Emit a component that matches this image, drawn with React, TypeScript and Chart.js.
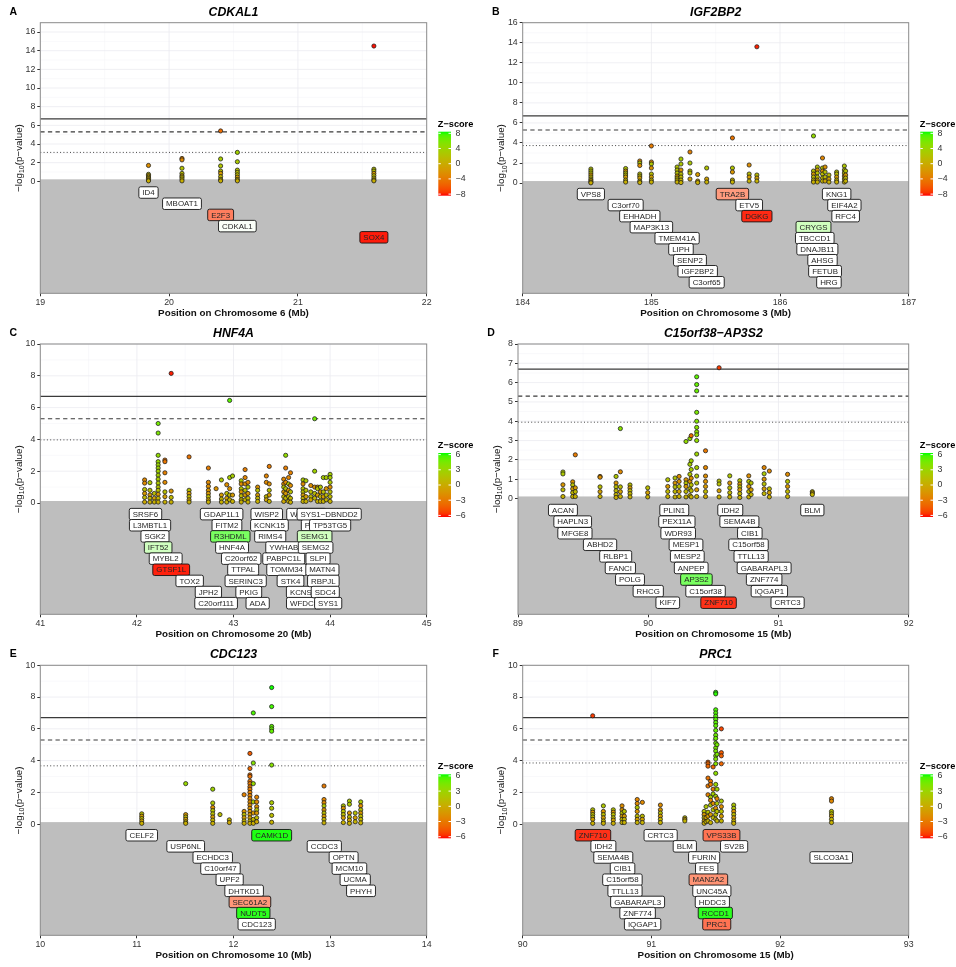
import { useEffect, useRef } from "react";
import { Chart, registerables } from "chart.js";

Chart.register(...registerables);

const FONT = '"Liberation Sans", Arimo, Arial, Helvetica, sans-serif';

// ---------- locus settings ----------
const panelLetters = ["A", "B", "C", "D", "E", "F"];
const locusNames = ["CDKAL1", "IGF2BP2", "HNF4A", "C15orf38\u2212AP3S2", "CDC123", "PRC1"];
const chromosomes = ["6", "3", "20", "15", "10", "15"];
const xStarts = [19, 184, 41, 89, 10, 90];
const xEnds = [22, 187, 45, 92, 14, 93];
const yTops = [17, 16, 10, 8, 10, 10];
const yBottoms = [-12, -11, -7, -6, -7, -7];
const yTickMax = [16, 16, 10, 8, 10, 10];
const yTickSteps = [2, 2, 2, 1, 2, 2];
const suggestiveLevels = [3.1, 3.74, 3.97, 3.95, 3.67, 3.85];
const zLimits = [8, 8, 6, 6, 6, 6];
const GENOME_WIDE = 6.7;
const SECONDARY = 5.3;

// ---------- SNPs: [position (Mb), signed -log10(p) values; sign = direction of Z] ----------
type SnpColumn = [number, number[]];

const cdkal1Snps: SnpColumn[] = [
  [19.84, [-1.7, 0.75, -0.6, 0.45, -0.3, 0.15, 0.05]],
  [20.1, [-2.45, -2.3, 1.4, 0.85, -0.6, 0.45, 0.25, 0.05]],
  [20.4, [-5.4, 2.4, 1.65, 1.1, -0.85, 0.5, 0.2, 0.05]],
  [20.53, [3.1, 2.1, 1.2, 0.95, 0.7, -0.45, 0.2, 0.05]],
  [21.59, [-14.5, 1.3, 1.1, -0.85, 0.6, 0.35, 0.15, 0.05]],
];

const igf2bp2Snps: SnpColumn[] = [
  [184.53, [1.4, 1.2, 1.0, -0.8, 0.6, 0.4, -0.25, 0.1, 0.02]],
  [184.8, [1.45, -1.2, 1.0, 0.8, -0.6, 0.3, 0.1]],
  [184.91, [-2.2, 2.0, -1.75, 0.9, 0.7, -0.5, 0.2, 0.05]],
  [185.0, [-3.7, -2.1, 1.9, -1.5, 0.9, -0.6, 0.3, 0.1]],
  [185.2, [1.6, 1.3, 1.0, -0.7, 0.5, 0.3, 0.1]],
  [185.23, [2.4, 1.9, -1.3, 0.9, 0.6, 0.3, 0.05]],
  [185.3, [-3.1, 2.0, 1.2, 1.0, -0.4]],
  [185.36, [-0.85, -0.2, 0.05]],
  [185.43, [1.5, -0.4, 0.1]],
  [185.63, [-4.5, 1.5, -1.1, 0.3, 0.1]],
  [185.76, [-1.8, 0.9, -0.6, 0.2]],
  [185.82, [-13.6, 0.8, -0.5, 0.2]],
  [186.26, [4.7, 1.2, -0.9, 0.6, 0.3, 0.1]],
  [186.29, [1.6, -1.3, 1.0, 0.6, -0.3, 0.1]],
  [186.33, [-2.5, 1.5, -1.2, 0.9, 0.5, 0.2]],
  [186.35, [-1.6, 1.1, 0.6, -0.2]],
  [186.38, [0.8, -0.4, 0.1]],
  [186.44, [1.1, 0.9, -0.6, 0.3, 0.1]],
  [186.5, [1.7, 1.3, 1.0, -0.7, 0.4, 0.1]],
  [186.51, [1.2, -0.8, 0.5, 0.2]],
];

const hnf4aSnps: SnpColumn[] = [
  [42.08, [-1.45, -1.25, 0.85, -0.6, 0.35, -0.06]],
  [42.135, [1.28, 0.8, -0.5, 0.3, 0.06]],
  [42.18, [0.6, -0.3, 0.06]],
  [42.22, [5.0, 4.4, 3.0, 2.6, 2.4, 2.2, 2.0, 1.75, 1.5, 1.25, 1.0, 0.8, -0.55, 0.3, 0.06]],
  [42.29, [-2.7, -2.6, -1.9, -1.3, 0.7, -0.4, 0.06]],
  [42.355, [-8.15, -0.75, 0.35, 0.06]],
  [42.54, [-2.9, 0.8, -0.6, 0.4, -0.2, 0.06]],
  [42.74, [-2.2, -1.3, -1.05, -0.8, -0.6, 0.4, -0.2, 0.06]],
  [42.82, [-0.9]],
  [42.875, [1.45, -0.5, 0.25, 0.06]],
  [42.93, [-1.15, 0.6, -0.3, 0.06]],
  [42.96, [6.45, 1.6, -0.9, 0.5, 0.2]],
  [42.99, [1.7, -0.5, 0.1]],
  [43.08, [1.4, -1.2, 0.9, -0.7, 0.45, 0.2, 0.06]],
  [43.12, [-2.1, -1.6, -1.2, 0.8, -0.5, 0.2]],
  [43.15, [-1.3, 1.0, -0.6, 0.3, 0.06]],
  [43.25, [-1.0, 0.8, -0.5, 0.3, 0.1]],
  [43.34, [-1.7, -1.3, 0.4, -0.2]],
  [43.37, [-2.3, -1.2, 0.8, -0.5, 0.1]],
  [43.52, [-1.5, -1.2, 1.0, -0.7, 0.4, -0.1]],
  [43.54, [3.0, -2.2, -1.3, 0.9, -0.6, 0.3]],
  [43.57, [-1.6, 1.2, -0.8, 0.4, 0.1]],
  [43.59, [-1.9, -1.1, 0.7, 0.3, 0.05]],
  [43.72, [1.45, -1.2, 0.9, 0.7, -0.5, 0.3, 0.1]],
  [43.75, [1.4, 0.8, -0.4, 0.1]],
  [43.8, [-1.1, 0.7, 0.4, -0.2]],
  [43.84, [5.3, 2.0, -1.0, 0.6, 0.3]],
  [43.87, [-1.0, 0.9, -0.5, 0.1]],
  [43.9, [1.0, -0.7, 0.4, 0.1]],
  [43.93, [1.6, 0.7, -0.4, 0.1]],
  [43.96, [1.6, -0.9, 0.5, 0.2]],
  [44.0, [1.8, 1.6, 1.3, -1.0, 0.7, 0.4, 0.1]],
];

const ap3s2Snps: SnpColumn[] = [
  [89.345, [1.37, 1.27, -0.71, 0.45, 0.1]],
  [89.42, [-0.86, 0.7, -0.5, 0.3, 0.1]],
  [89.44, [-2.26, -0.55, 0.35, 0.1]],
  [89.63, [-1.14, -1.1, 0.6, -0.35, 0.1]],
  [89.753, [1.14, -0.8, 0.6, 0.4, 0.2, 0.05]],
  [89.786, [3.62, -1.38, 0.6, -0.35, 0.1]],
  [89.86, [0.7, -0.55, 0.4, 0.25, 0.08]],
  [89.996, [0.55, -0.3, 0.08]],
  [90.15, [0.97, -0.62, 0.36, 0.1]],
  [90.206, [1.06, -0.8, 0.6, 0.36, 0.08]],
  [90.237, [-1.14, -0.88, 0.62, -0.36, 0.1]],
  [90.29, [2.95, -0.97, 0.8, -0.62, 0.36, 0.08]],
  [90.32, [3.1, 1.77, 1.25, -0.88, 0.5, 0.15]],
  [90.33, [-3.25, 1.95, 1.5, -1.05, 0.7, 0.4, 0.08]],
  [90.372, [6.3, 5.9, 5.57, 4.46, 4.0, 3.68, 3.45, 3.3, 3.0, 2.3, 1.6, 1.16, 0.8, -0.45, 0.1]],
  [90.44, [-2.47, -1.6, -1.16, -0.88, -0.62, 0.36, -0.1]],
  [90.544, [-6.77, 0.9, 0.75, -0.4, 0.08]],
  [90.626, [1.17, -0.8, 0.55, 0.3, 0.08]],
  [90.703, [0.92, -0.75, 0.6, -0.45, 0.25, 0.05]],
  [90.772, [-1.17, 0.88, -0.62, 0.36, 0.08]],
  [90.79, [0.8, -0.45, 0.2]],
  [90.89, [-1.6, 1.28, -1.0, 0.75, -0.5, 0.25]],
  [90.93, [-1.42, 0.5, -0.3, 0.08]],
  [91.07, [-1.25, 0.88, -0.62, 0.36, 0.1]],
  [91.26, [0.35, -0.28, 0.2]],
];

const cdc123Snps: SnpColumn[] = [
  [11.05, [0.65, -0.5, 0.35, -0.2, 0.05]],
  [11.505, [2.55, -0.6, 0.45, -0.3, 0.15, 0.05]],
  [11.785, [2.2, 1.33, -1.05, 0.85, 0.65, -0.45, 0.25, 0.05]],
  [11.86, [0.6]],
  [11.957, [0.27, -0.1]],
  [12.11, [-1.85, -0.8, 0.6, -0.4, 0.2, 0.05]],
  [12.17, [-4.45, -3.5, -3.1, -3.0, -2.7, -2.55, -2.35, -2.2, -2.0, -1.8, -1.6, -1.4, -1.2, -1.0, -0.8, -0.6, -0.4, 0.2, -0.05]],
  [12.205, [7.0, 3.85, 2.55, 1.4, -0.7, 0.3, 0.05]],
  [12.24, [-1.7, -1.4, -1.1, 0.9, -0.7, 0.4, -0.15]],
  [12.395, [8.6, 7.4, 6.15, 6.0, 5.85, 3.72, 1.35, 1.0, 0.55, 0.12]],
  [12.937, [-2.4, -1.55, -1.35, 1.15, -0.9, 0.7, -0.5, 0.3, 0.08]],
  [13.137, [1.15, -1.0, 0.8, 0.6, -0.4, 0.1]],
  [13.2, [1.45, 1.25, -0.7, 0.45, -0.25, 0.05]],
  [13.26, [0.7, -0.4, 0.15]],
  [13.317, [1.4, -1.15, 0.9, -0.7, 0.5, 0.3, 0.08]],
];

const prc1Snps: SnpColumn[] = [
  [90.544, [-6.82, 0.9, -0.75, 0.6, 0.45, -0.3, 0.05]],
  [90.627, [1.15, -0.8, 0.6, -0.4, 0.2, 0.05]],
  [90.704, [0.9, -0.75, 0.6, 0.4, -0.25, 0.05]],
  [90.772, [-1.15, -0.9, 0.7, -0.5, 0.3, 0.1]],
  [90.79, [0.8, -0.5, 0.3, 0.1]],
  [90.89, [-1.55, -1.3, 1.05, -0.8, 0.5, -0.3, 0.1]],
  [90.93, [-1.37, 0.5, -0.3, 0.1]],
  [91.07, [-1.2, -0.9, 0.7, -0.5, 0.3, 0.1]],
  [91.26, [0.4, -0.3, 0.2]],
  [91.41, [0.8, -0.6, 0.4, -0.2, 0.05]],
  [91.425, [1.1, -0.4, 0.15]],
  [91.44, [-3.9, -3.8, -3.65, -2.9, -2.4, -1.85, 0.75, -0.5, 0.2]],
  [91.46, [-2.7, -2.5, 1.7, -1.5, 1.2, -0.6, 0.1]],
  [91.48, [-3.6, -2.2, 1.9, -1.3, 0.9, 0.4]],
  [91.5, [8.3, 8.2, 7.2, 7.0, 6.8, 6.6, 6.4, 6.2, 5.9, 5.6, 5.4, 5.1, 4.8, 4.6, 4.3, 4.1, 3.8, 3.2, 2.5, 1.75, -1.0, 0.6, 0.3]],
  [91.51, [5.0, 4.4, 2.2, -1.6, 1.3, 0.8, 0.2]],
  [91.544, [-6.0, -4.5, -4.3, -3.8, 1.45, -1.1, 0.8, -0.5, 0.2]],
  [91.64, [1.2, 1.0, -0.8, 0.6, -0.4, 0.2, 0.05]],
  [92.4, [-1.6, -1.45, 0.8, 0.65, -0.5, 0.3, 0.1]],
];

// ---------- genes: [symbol, position (Mb), label row, gene Z-score] ----------
type GeneLabel = [string, number, number, number];

const cdkal1Genes: GeneLabel[] = [
  ["ID4", 19.84, 0, 0], ["MBOAT1", 20.1, 1, 0], ["E2F3", 20.4, 2, -5.2],
  ["CDKAL1", 20.53, 3, 0.3], ["SOX4", 21.59, 4, -7.8],
];

const igf2bp2Genes: GeneLabel[] = [
  ["VPS8", 184.53, 0, 0], ["C3orf70", 184.8, 1, 0], ["EHHADH", 184.91, 2, 0],
  ["MAP3K13", 185.0, 3, 0], ["TMEM41A", 185.2, 4, 0], ["LIPH", 185.23, 5, 0],
  ["SENP2", 185.3, 6, 0], ["IGF2BP2", 185.36, 7, 0], ["C3orf65", 185.43, 8, 0],
  ["TRA2B", 185.63, 0, -4.1], ["ETV5", 185.76, 1, 0], ["DGKG", 185.82, 2, -7.6],
  ["KNG1", 186.44, 0, 0], ["EIF4A2", 186.5, 1, 0], ["RFC4", 186.51, 2, 0],
  ["CRYGS", 186.26, 3, 2.6], ["TBCCD1", 186.27, 4, 0], ["DNAJB11", 186.29, 5, 0],
  ["AHSG", 186.33, 6, 0], ["FETUB", 186.35, 7, 0], ["HRG", 186.38, 8, 0],
];

const hnf4aGenes: GeneLabel[] = [
  ["SRSF6", 42.089, 0, 0], ["L3MBTL1", 42.136, 1, 0], ["SGK2", 42.187, 2, 0],
  ["IFT52", 42.22, 3, 1.9], ["MYBL2", 42.298, 4, 0], ["GTSF1L", 42.355, 5, -5.8],
  ["TOX2", 42.546, 6, 0], ["JPH2", 42.74, 7, 0], ["C20orf111", 42.82, 8, 0],
  ["GDAP1L1", 42.877, 0, 0], ["FITM2", 42.932, 1, 0], ["R3HDML", 42.967, 2, 4.6],
  ["HNF4A", 42.985, 3, 0], ["C20orf62", 43.08, 4, 0], ["TTPAL", 43.1, 5, 0],
  ["SERINC3", 43.126, 6, 0], ["PKIG", 43.158, 7, 0], ["ADA", 43.25, 8, 0],
  ["WISP2", 43.344, 0, 0], ["KCNK15", 43.372, 1, 0], ["RIMS4", 43.38, 2, 0],
  ["YWHAB", 43.52, 3, 0], ["PABPC1L", 43.52, 4, 0], ["TOMM34", 43.55, 5, 0],
  ["STK4", 43.59, 6, 0], ["KCNS1", 43.72, 7, 0], ["WFDC5", 43.73, 8, 0],
  ["WFDC12", 43.755, 0, 0], ["PI3", 43.8, 1, 0],
  ["SYS1\u2212DBNDD2", 43.99, 0, 0], ["TP53TG5", 44.0, 1, 0], ["SEMG1", 43.84, 2, 1.9],
  ["SEMG2", 43.85, 3, 0], ["SLPI", 43.875, 4, 0], ["MATN4", 43.92, 5, 0],
  ["RBPJL", 43.93, 6, 0], ["SDC4", 43.95, 7, 0], ["SYS1", 43.98, 8, 0],
];

const ap3s2Genes: GeneLabel[] = [
  ["ACAN", 89.345, 0, 0], ["HAPLN3", 89.42, 1, 0], ["MFGE8", 89.437, 2, 0],
  ["ABHD2", 89.63, 3, 0], ["RLBP1", 89.75, 4, 0], ["FANCI", 89.786, 5, 0],
  ["POLG", 89.86, 6, 0], ["RHCG", 90.0, 7, 0], ["KIF7", 90.15, 8, 0],
  ["PLIN1", 90.2, 0, 0], ["PEX11A", 90.22, 1, 0], ["WDR93", 90.23, 2, 0],
  ["MESP1", 90.29, 3, 0], ["MESP2", 90.3, 4, 0], ["ANPEP", 90.33, 5, 0],
  ["AP3S2", 90.37, 6, 4.6], ["C15orf38", 90.44, 7, 0], ["ZNF710", 90.54, 8, -5.6],
  ["IDH2", 90.63, 0, 0], ["SEMA4B", 90.7, 1, 0], ["CIB1", 90.78, 2, 0],
  ["C15orf58", 90.77, 3, 0], ["TTLL13", 90.79, 4, 0], ["GABARAPL3", 90.89, 5, 0],
  ["ZNF774", 90.89, 6, 0], ["IQGAP1", 90.93, 7, 0], ["CRTC3", 91.07, 8, 0],
  ["BLM", 91.26, 0, 0],
];

const cdc123Genes: GeneLabel[] = [
  ["CELF2", 11.05, 0, 0], ["USP6NL", 11.505, 1, 0], ["ECHDC3", 11.785, 2, 0],
  ["C10orf47", 11.865, 3, 0], ["UPF2", 11.96, 4, 0], ["DHTKD1", 12.11, 5, 0],
  ["SEC61A2", 12.17, 6, -3.2], ["NUDT5", 12.205, 7, 5.8], ["CDC123", 12.24, 8, 0],
  ["CAMK1D", 12.395, 0, 5.9], ["CCDC3", 12.94, 1, 0], ["OPTN", 13.14, 2, 0],
  ["MCM10", 13.2, 3, 0], ["UCMA", 13.26, 4, 0], ["PHYH", 13.32, 5, 0],
];

const prc1Genes: GeneLabel[] = [
  ["ZNF710", 90.546, 0, -5.6], ["IDH2", 90.627, 1, 0], ["SEMA4B", 90.704, 2, 0],
  ["CIB1", 90.776, 3, 0], ["C15orf58", 90.775, 4, 0], ["TTLL13", 90.795, 5, 0],
  ["GABARAPL3", 90.893, 6, 0], ["ZNF774", 90.893, 7, 0], ["IQGAP1", 90.932, 8, 0],
  ["CRTC3", 91.072, 0, 0], ["BLM", 91.26, 1, 0],
  ["VPS33B", 91.545, 0, -4.2], ["SV2B", 91.643, 1, 0], ["FURIN", 91.41, 2, 0],
  ["FES", 91.43, 3, 0], ["MAN2A2", 91.443, 4, -3.3], ["UNC45A", 91.47, 5, 0],
  ["HDDC3", 91.474, 6, 0], ["RCCD1", 91.497, 7, 5.8], ["PRC1", 91.508, 8, -4.2],
  ["SLCO3A1", 92.398, 2, 0],
];

const snpSets = [cdkal1Snps, igf2bp2Snps, hnf4aSnps, ap3s2Snps, cdc123Snps, prc1Snps];
const geneSets = [cdkal1Genes, igf2bp2Genes, hnf4aGenes, ap3s2Genes, cdc123Genes, prc1Genes];

// ---------- page layout of the six panels ----------
const panelBoxes = [
  { left: 0, top: 0, w: 478, h: 320, l: 40.3, r: 426.7, t: 22.7, b: 293.3 },
  { left: 478, top: 0, w: 478, h: 320, l: 44.7, r: 430.7, t: 22.7, b: 293.3 },
  { left: 0, top: 320, w: 478, h: 322, l: 40.3, r: 426.7, t: 24, b: 294.3 },
  { left: 478, top: 320, w: 478, h: 322, l: 40, r: 430.7, t: 24, b: 294.3 },
  { left: 0, top: 642, w: 478, h: 325, l: 40.3, r: 426.7, t: 23.3, b: 293.3 },
  { left: 478, top: 642, w: 478, h: 325, l: 44.7, r: 430.7, t: 23.3, b: 293.3 },
];

// ---------- colour helpers (CIELAB interpolation) ----------
type Lab = [number, number, number];

function srgbToLab(rgb: [number, number, number]): Lab {
  const lin = (c: number) => {
    c /= 255;
    return c <= 0.04045 ? c / 12.92 : Math.pow((c + 0.055) / 1.055, 2.4);
  };
  const R = lin(rgb[0]), G = lin(rgb[1]), B = lin(rgb[2]);
  const X = (0.4124564 * R + 0.3575761 * G + 0.1804375 * B) / 0.95047;
  const Y = 0.2126729 * R + 0.7151522 * G + 0.072175 * B;
  const Z = (0.0193339 * R + 0.119192 * G + 0.9503041 * B) / 1.08883;
  const f = (t: number) => (t > 0.008856 ? Math.cbrt(t) : 7.787 * t + 16 / 116);
  const fx = f(X), fy = f(Y), fz = f(Z);
  return [116 * fy - 16, 500 * (fx - fy), 200 * (fy - fz)];
}

function labToCss(lab: Lab): string {
  const fy = (lab[0] + 16) / 116;
  const fx = fy + lab[1] / 500;
  const fz = fy - lab[2] / 200;
  const inv = (t: number) => (t * t * t > 0.008856 ? t * t * t : (t - 16 / 116) / 7.787);
  const X = inv(fx) * 0.95047, Y = inv(fy), Z = inv(fz) * 1.08883;
  const R = 3.2404542 * X - 1.5371385 * Y - 0.4985314 * Z;
  const G = -0.969266 * X + 1.8760108 * Y + 0.041556 * Z;
  const B = 0.0556434 * X - 0.2040259 * Y + 1.0572252 * Z;
  const g = (c: number) => {
    const v = c <= 0.0031308 ? 12.92 * c : 1.055 * Math.pow(c, 1 / 2.4) - 0.055;
    return Math.round(Math.min(1, Math.max(0, v)) * 255);
  };
  return `rgb(${g(R)},${g(G)},${g(B)})`;
}

const LAB_RED = srgbToLab([255, 0, 0]);
const LAB_GREEN = srgbToLab([0, 255, 0]);
const LAB_WHITE = srgbToLab([255, 255, 255]);

function mixLab(a: Lab, b: Lab, t: number): string {
  return labToCss([a[0] + (b[0] - a[0]) * t, a[1] + (b[1] - a[1]) * t, a[2] + (b[2] - a[2]) * t]);
}

function pointColour(z: number, lim: number): string {
  const t = Math.min(1, Math.max(0, (z + lim) / (2 * lim)));
  return mixLab(LAB_RED, LAB_GREEN, t);
}

function labelFill(z: number, lim: number): string {
  const t = Math.min(1, Math.abs(z) / lim);
  return z < 0 ? mixLab(LAB_WHITE, LAB_RED, t) : mixLab(LAB_WHITE, LAB_GREEN, t);
}

// inverse standard normal CDF (Acklam)
function normInv(p: number): number {
  const a = [-39.69683028665376, 220.9460984245205, -275.9285104469687, 138.357751867269, -30.66479806614716, 2.506628277459239];
  const b = [-54.47609879822406, 161.5858368580409, -155.6989798598866, 66.80131188771972, -13.28068155288572];
  const c = [-0.007784894002430293, -0.3223964580411365, -2.400758277161838, -2.549732539343734, 4.374664141464968, 2.938163982698783];
  const d = [0.007784695709041462, 0.3224671290700398, 2.445134137142996, 3.754408661907416];
  const pl = 0.02425;
  if (p < pl) {
    const q = Math.sqrt(-2 * Math.log(p));
    return (((((c[0] * q + c[1]) * q + c[2]) * q + c[3]) * q + c[4]) * q + c[5]) / ((((d[0] * q + d[1]) * q + d[2]) * q + d[3]) * q + 1);
  }
  if (p <= 1 - pl) {
    const q = p - 0.5, r = q * q;
    return ((((((a[0] * r + a[1]) * r + a[2]) * r + a[3]) * r + a[4]) * r + a[5]) * q) / (((((b[0] * r + b[1]) * r + b[2]) * r + b[3]) * r + b[4]) * r + 1);
  }
  const q = Math.sqrt(-2 * Math.log(1 - p));
  return -(((((c[0] * q + c[1]) * q + c[2]) * q + c[3]) * q + c[4]) * q + c[5]) / ((((d[0] * q + d[1]) * q + d[2]) * q + d[3]) * q + 1);
}

// Z-score implied by a two-sided p-value, signed by effect direction
function zFromSignedLogP(v: number): number {
  const p = Math.pow(10, -Math.abs(v));
  const z = -normInv(Math.min(0.999999, p) / 2);
  return v < 0 ? -z : z;
}

const fmt = (v: number) => (v < 0 ? "\u2212" + Math.abs(v) : String(v));

// ---------- drawing plugin for one locus ----------
function locusDecor(i: number) {
  return {
    id: "locusDecor",
    beforeDatasetsDraw(chart: any) {
      const { ctx, chartArea: a, scales } = chart;
      const xs = scales.x, ys = scales.y;
      ctx.save();
      // minor grid
      ctx.strokeStyle = "#F3F3F6";
      ctx.lineWidth = 0.5;
      for (let v = xStarts[i] + 0.5; v < xEnds[i]; v += 1) {
        const px = xs.getPixelForValue(v);
        ctx.beginPath(); ctx.moveTo(px, a.top); ctx.lineTo(px, a.bottom); ctx.stroke();
      }
      for (let v = yTickSteps[i] / 2; v < yTops[i]; v += yTickSteps[i]) {
        const py = ys.getPixelForValue(v);
        ctx.beginPath(); ctx.moveTo(a.left, py); ctx.lineTo(a.right, py); ctx.stroke();
      }
      // major grid
      ctx.strokeStyle = "#EBEBF0";
      ctx.lineWidth = 0.8;
      for (let v = xStarts[i] + 1; v < xEnds[i]; v += 1) {
        const px = xs.getPixelForValue(v);
        ctx.beginPath(); ctx.moveTo(px, a.top); ctx.lineTo(px, a.bottom); ctx.stroke();
      }
      for (let v = 0; v <= yTops[i]; v += yTickSteps[i]) {
        const py = ys.getPixelForValue(v);
        ctx.beginPath(); ctx.moveTo(a.left, py); ctx.lineTo(a.right, py); ctx.stroke();
      }
      // gene track background
      const y0 = ys.getPixelForValue(0);
      ctx.fillStyle = "#BEBEBE";
      ctx.fillRect(a.left, y0 - 2, a.right - a.left, a.bottom - y0 + 2);
      // significance thresholds
      const hline = (val: number, colour: string, width: number, dash: number[]) => {
        const py = ys.getPixelForValue(val);
        ctx.strokeStyle = colour;
        ctx.lineWidth = width;
        ctx.setLineDash(dash);
        ctx.beginPath(); ctx.moveTo(a.left, py); ctx.lineTo(a.right, py); ctx.stroke();
      };
      hline(GENOME_WIDE, "#3a3a3a", 1.2, []);
      hline(SECONDARY, "#3a3a3a", 1.1, [4.3, 3.3]);
      hline(suggestiveLevels[i], "#444", 1, [1, 2.3]);
      ctx.setLineDash([]);
      ctx.restore();
    },
    afterDatasetsDraw(chart: any) {
      const { ctx, chartArea: a, scales } = chart;
      const xs = scales.x, ys = scales.y;
      const lim = zLimits[i];
      const rowStep = -yBottoms[i] / 10;
      ctx.save();
      ctx.font = `7.9px ${FONT}`;
      ctx.textAlign = "center";
      ctx.textBaseline = "middle";
      for (const [name, pos, row, z] of geneSets[i]) {
        const cx = xs.getPixelForValue(pos);
        const cy = ys.getPixelForValue(-(row + 1) * rowStep);
        const w = ctx.measureText(name).width + 7;
        const h = 11.5;
        ctx.beginPath();
        ctx.roundRect(cx - w / 2, cy - h / 2, w, h, 1.8);
        ctx.fillStyle = z === 0 ? "#FFFFFF" : labelFill(z, lim);
        ctx.fill();
        ctx.lineWidth = 0.9;
        ctx.strokeStyle = "#151515";
        ctx.stroke();
        ctx.fillStyle = "#262626";
        ctx.fillText(name, cx, cy + 0.5);
      }
      // panel frame
      ctx.strokeStyle = "#8A8A8A";
      ctx.lineWidth = 1;
      ctx.strokeRect(a.left, a.top, a.right - a.left, a.bottom - a.top);
      ctx.restore();
    },
    afterDraw(chart: any) {
      const { ctx, chartArea: a } = chart;
      const midX = (a.left + a.right) / 2;
      ctx.save();
      ctx.fillStyle = "#000";
      ctx.textBaseline = "middle";
      ctx.textAlign = "center";
      // locus title
      ctx.font = `italic bold 12.3px ${FONT}`;
      ctx.fillText(locusNames[i], midX, a.top - 10.5);
      // panel letter
      ctx.font = `bold 10.5px ${FONT}`;
      ctx.fillText(panelLetters[i], a.left - 27, a.top - 11);
      // x-axis title
      ctx.font = `bold 9.8px ${FONT}`;
      ctx.fillStyle = "#111";
      ctx.fillText(`Position on Chromosome ${chromosomes[i]} (Mb)`, midX, a.bottom + 19.5);
      // y-axis title with subscript
      ctx.save();
      ctx.translate(a.left - 22, (a.top + a.bottom) / 2);
      ctx.rotate(-Math.PI / 2);
      ctx.textAlign = "left";
      ctx.textBaseline = "alphabetic";
      const mainFont = `9.8px ${FONT}`;
      const subFont = `7px ${FONT}`;
      ctx.font = mainFont;
      const w1 = ctx.measureText("\u2212log").width;
      const w3 = ctx.measureText("(p\u2212value)").width;
      ctx.font = subFont;
      const w2 = ctx.measureText("10").width;
      let x0 = -(w1 + w2 + w3) / 2;
      ctx.fillStyle = "#111";
      ctx.font = mainFont;
      ctx.fillText("\u2212log", x0, 3.5);
      x0 += w1;
      ctx.font = subFont;
      ctx.fillText("10", x0, 5.8);
      x0 += w2;
      ctx.font = mainFont;
      ctx.fillText("(p\u2212value)", x0, 3.5);
      ctx.restore();
      // Z-score colour bar
      const lim = zLimits[i];
      const barL = a.right + 11.6;
      const barW = 12.7;
      const barT = a.top + 109;
      const barH = 64;
      const barB = barT + barH;
      const grad = ctx.createLinearGradient(0, barB, 0, barT);
      for (let k = 0; k <= 20; k++) {
        const t = k / 20;
        grad.addColorStop(t, pointColour(-lim + 2 * lim * t, lim));
      }
      ctx.fillStyle = grad;
      ctx.fillRect(barL, barT, barW, barH);
      ctx.font = `bold 9.2px ${FONT}`;
      ctx.fillStyle = "#000";
      ctx.textAlign = "left";
      ctx.textBaseline = "middle";
      ctx.fillText("Z\u2212score", barL - 0.5, barT - 7.5);
      ctx.font = `8.8px ${FONT}`;
      const inset = 1.6;
      for (const v of [lim, lim / 2, 0, -lim / 2, -lim]) {
        const py = barB - inset - ((v + lim) / (2 * lim)) * (barH - 2 * inset);
        ctx.strokeStyle = "#FFFFFF";
        ctx.lineWidth = 1;
        ctx.beginPath();
        ctx.moveTo(barL, py); ctx.lineTo(barL + 2.5, py);
        ctx.moveTo(barL + barW - 2.5, py); ctx.lineTo(barL + barW, py);
        ctx.stroke();
        ctx.fillStyle = "#333";
        ctx.fillText(fmt(v), barL + barW + 4.5, py);
      }
      ctx.restore();
    },
  };
}

function LocusPanel({ index }: { index: number }) {
  const ref = useRef<HTMLCanvasElement | null>(null);
  const box = panelBoxes[index];

  useEffect(() => {
    const canvas = ref.current;
    if (!canvas) return;
    const lim = zLimits[index];
    const points: { x: number; y: number }[] = [];
    const fills: string[] = [];
    for (const [pos, vals] of snpSets[index]) {
      for (const v of vals) {
        points.push({ x: pos, y: Math.abs(v) });
        fills.push(pointColour(zFromSignedLogP(v), lim));
      }
    }
    const xTicks: number[] = [];
    for (let v = xStarts[index]; v <= xEnds[index]; v++) xTicks.push(v);
    const yTicks: number[] = [];
    for (let v = 0; v <= yTickMax[index] + 1e-9; v += yTickSteps[index]) yTicks.push(v);

    const tickFont = { family: FONT, size: 8.8 };
    const chart = new Chart(canvas, {
      type: "scatter",
      data: {
        datasets: [
          {
            data: points,
            pointBackgroundColor: fills,
            pointBorderColor: "#1a1a1a",
            pointBorderWidth: 0.75,
            pointRadius: 2.1,
            pointHoverRadius: 2.1,
          },
        ],
      },
      options: {
        animation: false,
        responsive: false,
        devicePixelRatio: 1,
        events: [],
        layout: { padding: { top: box.t, right: box.w - box.r, left: 0, bottom: 0 } },
        plugins: { legend: { display: false }, tooltip: { enabled: false }, title: { display: false } },
        scales: {
          x: {
            type: "linear",
            min: xStarts[index],
            max: xEnds[index],
            afterFit: (s: any) => { s.height = box.h - box.b; },
            afterBuildTicks: (s: any) => { s.ticks = xTicks.map((value) => ({ value })); },
            ticks: { font: tickFont, color: "#333", padding: 1, maxRotation: 0, autoSkip: false, callback: (v: any) => String(v) },
            grid: { drawOnChartArea: false, drawTicks: true, tickLength: 3, color: "#333", lineWidth: 1 },
            border: { display: false },
          },
          y: {
            type: "linear",
            min: yBottoms[index],
            max: yTops[index],
            afterFit: (s: any) => { s.width = box.l; },
            afterBuildTicks: (s: any) => { s.ticks = yTicks.map((value) => ({ value })); },
            ticks: { font: tickFont, color: "#333", padding: 2, autoSkip: false, callback: (v: any) => String(v) },
            grid: { drawOnChartArea: false, drawTicks: true, tickLength: 3, color: "#333", lineWidth: 1 },
            border: { display: false },
          },
        },
      },
      plugins: [locusDecor(index)],
    } as any);
    return () => chart.destroy();
  }, [index]);

  return (
    <canvas
      ref={ref}
      width={box.w}
      height={box.h}
      style={{ position: "absolute", left: box.left, top: box.top, width: box.w, height: box.h }}
    />
  );
}

export default function App() {
  return (
    <div style={{ position: "absolute", left: 0, top: 0, width: 956, height: 967, background: "#FFFFFF" }}>
      {panelLetters.map((_, i) => (
        <LocusPanel key={i} index={i} />
      ))}
    </div>
  );
}
